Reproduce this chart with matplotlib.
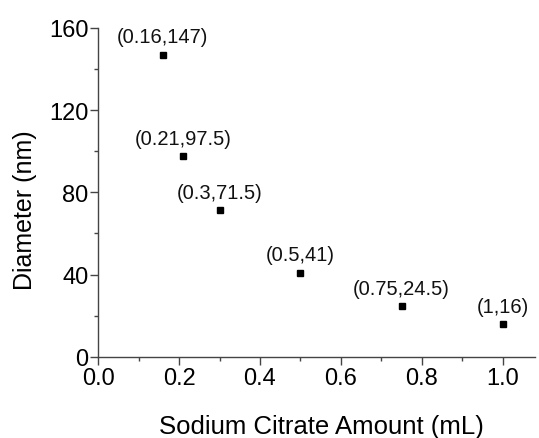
import matplotlib.pyplot as plt
from matplotlib.ticker import MultipleLocator

plt.rcParams['font.family'] = ['Liberation Sans', 'DejaVu Sans']

# citrate volume vs. particle diameter
citrate_ml = [0.16, 0.21, 0.3, 0.5, 0.75, 1.0]
diameter_nm = [147, 97.5, 71.5, 41, 24.5, 16]
point_labels = ['(0.16,147)', '(0.21,97.5)', '(0.3,71.5)',
                '(0.5,41)', '(0.75,24.5)', '(1,16)']

fig = plt.figure(figsize=(5.39, 4.39), dpi=100)
ax = fig.add_axes([0.182, 0.185, 0.811, 0.749])

ax.plot(citrate_ml, diameter_nm, 's', color='black', markersize=5)

for x, y, txt in zip(citrate_ml, diameter_nm, point_labels):
    ax.annotate(txt, (x, y), xytext=(0, 6), textcoords='offset points',
                ha='center', va='bottom', fontsize=14.5, color='#111111')

ax.set_xlim(0, 1.08)
ax.set_ylim(0, 160)
ax.xaxis.set_major_locator(MultipleLocator(0.2))
ax.xaxis.set_minor_locator(MultipleLocator(0.1))
ax.yaxis.set_major_locator(MultipleLocator(40))
ax.yaxis.set_minor_locator(MultipleLocator(20))
ax.xaxis.set_major_formatter(plt.FormatStrFormatter('%.1f'))

for side in ['top', 'right']:
    ax.spines[side].set_visible(False)
for side in ['left', 'bottom']:
    ax.spines[side].set_color('#444444')
    ax.spines[side].set_linewidth(1.0)

ax.tick_params(which='major', direction='out', length=6, width=1,
               color='#444444', labelsize=17, pad=1)
ax.tick_params(which='minor', direction='out', length=3, width=1,
               color='#444444')

ax.set_xlabel('Sodium Citrate Amount (mL)', fontsize=18.5)
ax.set_ylabel('Diameter (nm)', fontsize=18)
ax.xaxis.set_label_coords(0.51, -0.175)
ax.yaxis.set_label_coords(-0.14, 0.45)

fig.savefig('out.png', dpi=100)
